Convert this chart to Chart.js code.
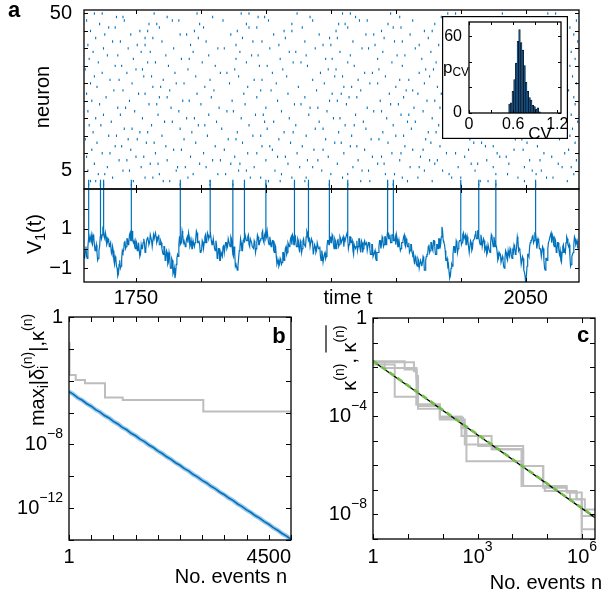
<!DOCTYPE html>
<html>
<head>
<meta charset="utf-8">
<script src="https://cdn.jsdelivr.net/npm/chart.js@4.4.1/dist/chart.umd.min.js"></script>
<style>
html, body { margin: 0; padding: 0; background: #fff; }
body { width: 603px; height: 595px; position: relative; overflow: hidden; }
canvas { position: absolute; }
</style>
</head>
<body>
<script>
// -------------------------------
// DATA
// -------------------------------
const T0 = 1710, T1 = 2091;

const timeTicks = [1750, 1800, 1850, 1900, 1950, 2000, 2050];
const timeTickLabels = ['1750', '', '', '', '', '', '2050'];
const neuronTicks = [5, 10, 15, 20, 25, 30, 35, 40, 45, 50];
const neuronTickLabels = ['5', '', '', '', '', '', '', '', '', '50'];
const vTicks = [-1, 0, 1, 2];
const vTickLabels = ['\u22121', '', '1', ''];

// spike times of neuron 1 (also the raster's bottom row)
const vSpikes = [1713.6, 1722.6, 1725.1, 1746.4, 1784, 1807, 1824.6, 1833.5, 1850, 1872,
  1882.7, 1898.8, 1913, 1943.7, 1948, 2000, 2013.8, 2027, 2057.6];
const spikePeak = 3.5;

// membrane potential of neuron 1 at t = T0, T0+1, ...
const vTrace = [
  -0.3, -0.1, -0.4, 0.1, 0.6, 0.5, 0.3, 0.7, 0.2, 0.0,
  -0.2, -0.5, 0.1, 0.8, 0.7, 0.9, 0.5, 0.6, 0.3, 0.4,
  0.2, -0.2, 0.1, -0.6, -0.4, -0.9, -1.4, -0.8, -1.0, -0.5,
  -0.2, 0.3, 0.0, 0.5, 0.2, 0.7, 0.4, 0.9, 0.3, 0.1,
  0.4, -0.1, 0.3, -0.4, 0.2, 0.0, 0.5, -0.2, 0.3, 0.6,
  0.2, 0.7, 0.4, 0.1, 0.5, 0.8, 0.3, 0.6, 0.2, 0.4,
  0.0, -0.3, 0.1, -0.5, -0.2, -0.7, -0.4, -1.0, -0.6, -1.2,
  -1.5, -0.8, -0.3, 0.2, 0.5, 0.3, 0.7, 0.4, 0.1, 0.5,
  0.3, 0.6, 0.2, 0.0, 0.4, 0.1, 0.5, 0.8, 0.3, 0.2,
  -0.1, 0.4, 0.0, 0.6, 0.3, 0.8, 0.5, 0.9, 0.4, 0.2,
  0.5, -0.1, 0.2, -0.4, 0.0, -0.6, -0.3, 0.1, -0.2, 0.3,
  0.0, 0.5, 0.2, 0.6, 0.1, -0.4, -0.2, -0.8, -1.1, -0.5,
  0.0, 0.3, -0.1, 0.5, 0.7, 0.4, 0.6, 0.2, 0.5, 0.3,
  0.1, 0.4, -0.2, 0.3, 0.6, 0.2, 0.5, 0.8, 0.4, 0.7,
  0.5, 0.9, 0.3, 0.6, 0.1, 0.4, -0.1, 0.2, -0.4, -0.7,
  -0.9, -0.5, -0.8, -0.2, -0.6, 0.0, -0.3, 0.3, 0.1, 0.5,
  0.2, 0.6, 0.3, 0.7, 0.1, 0.4, -0.2, 0.3, 0.0, 0.5,
  0.2, 0.6, 0.8, 0.4, 0.1, 0.5, 0.2, -0.3, 0.1, -0.1,
  0.3, 0.0, -0.4, -0.1, -0.7, -0.3, -0.5, 0.1, 0.4, 0.6,
  0.3, 0.7, 0.2, 0.5, 0.0, 0.4, 0.1, 0.6, 0.3, 0.5,
  0.1, 0.4, 0.7, 0.5, 0.2, 0.6, 0.3, -0.1, 0.2, 0.0,
  0.4, 0.1, 0.5, -0.2, 0.3, 0.0, 0.4, 0.2, -0.1, 0.3,
  0.0, -0.3, 0.2, -0.4, -0.1, -0.6, -0.2, 0.1, 0.4, 0.2,
  0.5, 0.2, 0.6, 0.4, 0.8, 0.5, 0.3, 0.7, 0.6, 0.4,
  0.2, 0.5, 0.1, 0.4, 0.0, 0.3, 0.6, 0.2, 0.5, 0.1,
  0.3, -0.1, 0.2, -0.3, -0.6, -0.4, -0.8, -0.5, -1.0, -0.6,
  -0.9, -0.4, -1.1, -0.6, -0.3, 0.1, -0.2, 0.3, 0.0, 0.4,
  0.1, -0.3, 0.2, 0.5, 0.0, 0.6, 0.9, 0.3, -0.1, -0.6,
  -0.9, -1.2, -1.4, -0.8, -0.3, 0.1, -0.2, 0.3, 0.0, 0.4,
  0.6, 0.3, 0.8, 0.5, 0.2, 0.6, 0.1, -0.2, 0.3, 0.0,
  0.4, 0.7, 0.5, 0.9, 0.6, 0.2, 0.5, 0.1, 0.4, 0.0,
  -0.3, 0.2, -0.1, 0.3, 0.6, 0.1, 0.4, 0.2, -0.2, -0.5,
  -0.3, -0.7, -0.4, -0.9, -0.5, -0.2, -0.6, -0.3, 0.0, -0.4,
  -0.1, 0.2, -0.3, 0.1, 0.4, 0.0, -0.4, -0.8, -0.5, -1.2,
  -1.8, -0.9, -0.3, 0.1, 0.4, 0.6, 0.3, 0.8, 0.5, 0.2,
  0.4, 0.0, -0.4, 0.1, -0.6, -1.1, -0.5, 0.0, 0.4, 0.7,
  0.3, 0.6, 0.1, 0.4, -0.1, 0.3, -0.3, -0.6, -0.2, 0.2,
  -0.1, 0.3, 0.5, 0.1, -0.4, -0.8, -0.3, 0.2, 0.5, 0.3,
  0.0
];
// and at the half steps t = T0+0.5, T0+1.5, ...
const vTraceHalf = [
  -0.5, 0.1, -0.5, 0.5, 0.3, 0.7, 0.2, 0.6, -0.1, 0.2,
  -0.6, -0.1, 0.6, 0.5, 1.0, 0.6, 0.8, 0.2, 0.5, 0.1,
  0.3, -0.3, -0.1, -0.8, -0.5, -1.0, -1.3, -0.6, -0.9, -0.1,
  -0.1, 0.4, 0.1, 0.5, 0.3, 0.8, 0.5, 0.4, 0.4, 0.0,
  0.3, 0.0, -0.1, -0.3, 0.0, 0.3, 0.3, -0.1, 0.5, 0.4,
  0.3, 0.7, 0.1, 0.7, 0.5, 0.6, 0.4, 0.7, 0.2, 0.3,
  -0.2, 0.1, -0.6, -0.1, -0.8, -0.2, -1.0, -0.5, -1.3, -1.0,
  -1.3, -0.5, -0.4, 0.6, 0.2, 0.9, 0.3, 0.4, 0.3, 0.6,
  0.8, 0.1, 0.4, 0.0, 0.4, 0.3, 0.9, 0.3, 0.4, -0.2,
  -0.1, 0.3, 0.3, 0.7, 0.4, 0.7, 0.6, 0.9, 0.2, 0.5,
  0.0, 0.4, -0.5, 0.0, -0.6, -0.2, -0.4, 0.2, -0.2, 0.3,
  0.1, 0.5, 0.1, 0.5, -0.3, 0.1, -0.9, -0.8, -0.9, -0.1,
  0.5, -0.1, 0.4, 0.3, 0.7, 0.4, 0.7, 0.1, 0.5, 0.1,
  0.0, 0.3, 0.0, 0.7, 0.2, 0.4, 0.5, 0.9, 0.3, 0.8,
  0.6, 0.9, 0.2, 0.4, 0.2, 0.4, -0.2, 0.1, -0.8, -0.6,
  -0.8, -0.6, -0.7, -0.2, -0.3, 0.1, -0.2, 0.2, 0.2, 0.6,
  0.7, 0.2, 0.7, 0.1, 0.5, 0.0, 0.4, -0.2, 0.4, 0.2,
  0.1, 0.9, 0.5, 0.5, 0.1, 0.4, -0.3, 0.2, -0.2, 0.3,
  0.0, 0.1, -0.6, -0.3, -0.7, -0.2, -0.4, 0.4, 0.2, 0.6,
  0.3, 0.6, 0.0, 0.4, 0.1, 0.5, 0.2, 0.5, 0.3, 0.6,
  0.5, 0.4, 0.8, 0.0, 0.6, 0.3, 0.4, -0.3, 0.2, 0.1,
  -0.1, 0.5, 0.0, 0.4, -0.2, 0.3, 0.2, 0.3, -0.1, 0.3,
  -0.3, 0.2, -0.4, -0.2, -0.5, -0.2, -0.2, 0.4, 0.0, 0.6,
  0.1, 0.6, 0.2, 0.8, 0.5, 0.7, 0.3, 0.7, 0.4, 0.6,
  0.7, 0.1, 0.4, -0.1, 0.3, 0.4, 0.7, 0.1, 0.4, 0.1,
  -0.2, 0.2, -0.2, -0.2, -0.8, -0.5, -0.9, -0.6, -1.0, -0.7,
  -0.7, -0.5, -1.1, -0.4, -0.3, 0.2, -0.1, 0.3, -0.1, 0.4,
  -0.3, 0.2, 0.0, 0.5, 0.2, 1.1, 0.4, 0.2, -0.6, -0.5,
  -0.8, -1.5, -1.0, -0.9, 0.1, -0.2, 0.4, -0.2, 0.3, 0.4,
  0.2, 0.7, 0.5, 0.7, 0.2, 0.4, -0.2, 0.4, -0.1, 0.4,
  0.5, 0.9, 0.5, 0.9, 0.3, 0.7, 0.1, 0.5, -0.1, 0.1,
  -0.2, 0.2, -0.2, 0.7, 0.3, 0.6, 0.1, 0.1, -0.6, -0.2,
  -0.3, -0.7, -0.6, -1.0, -0.1, -0.5, -0.1, -0.4, -0.1, -0.5,
  -0.2, 0.1, -0.2, 0.6, -0.1, -0.1, -0.8, -0.4, -1.1, -1.4,
  -1.4, -0.3, -0.4, 0.3, 0.4, 0.7, 0.4, 0.8, 0.0, 0.5,
  0.0, -0.1, -0.4, 0.0, -1.0, -0.5, -0.6, 0.3, 0.4, 0.8,
  0.7, 0.2, 0.5, -0.2, 0.3, -0.1, -0.1, -0.7, 0.1, -0.2,
  -0.2, 0.6, 0.2, 0.2, -0.9, -0.4, -0.2, 0.6, 0.2, 0.4
];

// spike times of neurons 2..50, as offsets from T0
// (rows under the inset only keep what is visible)
const spikeRows = [
  [5, 9, 38, 61, 66, 97, 142, 151, 170, 213, 220, 249, 268, 305, 311, 339, 372],
  [22, 47, 53, 80, 128, 136, 160, 171, 199, 245, 257, 283, 290, 334, 356, 361],
  [11, 16, 58, 84, 103, 109, 152, 190, 203, 232, 239, 281, 317, 326, 348, 377],
  [3, 30, 35, 71, 119, 125, 147, 183, 214, 219, 262, 276, 301, 345, 352],
  [18, 44, 72, 78, 94, 131, 166, 176, 207, 251, 258, 288, 315, 339, 368, 375],
  [8, 51, 57, 89, 113, 120, 157, 195, 226, 231, 270, 298, 303, 327, 365],
  [27, 33, 64, 99, 105, 140, 172, 180, 211, 243, 266, 272, 310, 343, 351, 379],
  [2, 40, 46, 82, 116, 149, 155, 188, 222, 229, 259, 293, 320, 325, 360],
  [14, 20, 55, 92, 126, 133, 164, 200, 237, 244, 279, 286, 318, 354, 370],
  [6, 36, 69, 75, 108, 145, 177, 184, 216, 253, 261, 296, 331, 338, 373],
  [24, 29, 63, 101, 137, 143, 168, 205, 210, 247, 274, 309, 315, 349],
  [10, 48, 54, 86, 122, 159, 193, 198, 234, 267, 300, 306, 341, 378],
  [1, 34, 41, 77, 111, 117, 150, 186, 221, 227, 263, 297, 332, 337, 366],
  [19, 25, 60, 95, 130, 136, 171, 206, 240, 246, 374],
  [7, 43, 49, 83, 118, 154, 161, 196, 230, 265, 271],
  [31, 37, 74, 106, 141, 178, 184, 217, 252, 376],
  [4, 13, 52, 88, 93, 127, 163, 201, 208, 238, 273],
  [21, 62, 68, 102, 139, 146, 181, 215, 249, 255, 380],
  [9, 45, 79, 85, 121, 158, 192, 197, 233, 268],
  [15, 28, 57, 96, 132, 138, 173, 209, 244, 250, 375],
  [3, 39, 73, 110, 115, 152, 187, 223, 229, 261],
  [26, 32, 67, 104, 140, 174, 180, 218, 254, 274],
  [12, 50, 56, 90, 124, 162, 167, 202, 236, 242, 378],
  [6, 35, 76, 81, 114, 149, 189, 195, 228, 264, 270],
  [17, 58, 64, 98, 133, 170, 204, 210, 246, 377],
  [2, 42, 47, 87, 123, 157, 191, 198, 235, 257, 275],
  [23, 30, 66, 100, 136, 144, 179, 213, 248, 253, 373],
  [10, 53, 59, 93, 126, 165, 200, 206, 240, 272],
  [5, 37, 71, 77, 112, 148, 185, 220, 226, 262, 379],
  [20, 27, 61, 97, 131, 137, 176, 211, 243, 250],
  [8, 46, 52, 86, 119, 156, 193, 199, 232, 266, 376],
  [14, 33, 70, 105, 110, 145, 182, 216, 222, 258],
  [1, 40, 45, 80, 116, 153, 188, 194, 227, 263, 269],
  [24, 29, 65, 101, 135, 141, 172, 208, 245, 374],
  [11, 49, 55, 91, 125, 161, 167, 203, 237, 271],
  [4, 38, 75, 81, 117, 151, 186, 191, 226, 260, 378],
  [18, 26, 63, 96, 129, 134, 171, 205, 241, 247],
  [7, 44, 51, 84, 120, 158, 163, 197, 230, 267, 375],
  [15, 34, 69, 103, 108, 143, 178, 214, 219, 255],
  [3, 41, 47, 82, 117, 150, 184, 190, 224, 258, 273],
  [22, 28, 60, 94, 130, 137, 170, 207, 239, 245, 380],
  [9, 47, 53, 88, 122, 155, 189, 195, 231, 265],
  [16, 36, 74, 79, 113, 146, 181, 217, 223, 251, 377],
  [5, 43, 49, 85, 118, 154, 160, 194, 229, 262, 268],
  [19, 24, 58, 92, 127, 133, 168, 203, 238, 244, 374],
  [12, 50, 56, 89, 125, 160, 196, 201, 234, 270],
  [2, 31, 68, 73, 107, 142, 176, 212, 218, 253, 379],
  [25, 30, 64, 99, 134, 139, 174, 209, 243, 275],
  [8, 14, 54, 87, 121, 127, 164, 199, 205, 236, 280, 286, 322, 357, 363]
];

// inset: histogram of CV
const cvCenters = [0.55, 0.573, 0.595, 0.618, 0.641, 0.664, 0.686, 0.709, 0.732, 0.755,
  0.777, 0.8, 0.823, 0.845, 0.868, 0.891, 0.914, 0.936, 0.959];
const cvCounts = [7, 8, 17, 26, 39, 56, 65, 55, 49, 37, 24, 17, 12, 10, 6, 5, 3, 4, 1];
const cvTicks = [0, 0.3, 0.6, 0.9, 1.2];
const cvTickLabels = ['0', '', '0.6', '', '1.2'];
const pTicks = [0, 20, 40, 60];
const pTickLabels = ['0', '', '', '60'];

// panel b
const bN = [1, 100, 200, 300, 400, 500, 600, 700, 800, 900, 1000, 1100, 1200, 1300, 1400,
  1500, 1600, 1700, 1800, 1900, 2000, 2100, 2200, 2300, 2400, 2500, 2600, 2700, 2800, 2900,
  3000, 3100, 3200, 3300, 3400, 3500, 3600, 3700, 3800, 3900, 4000, 4100, 4200, 4300, 4400,
  4500, 4600, 4700, 4800, 4900, 5000];
const bDelta = [2.04e-5, 1.4e-5, 8.3e-6, 5.9e-6, 3.6e-6, 2.5e-6, 1.52e-6, 1.07e-6, 6.5e-7, 4.6e-7,
  2.8e-7, 1.93e-7, 1.18e-7, 8.3e-8, 5.0e-8, 3.5e-8, 2.15e-8, 1.5e-8, 9.2e-9, 6.4e-9,
  3.9e-9, 2.7e-9, 1.67e-9, 1.15e-9, 7.1e-10, 4.9e-10, 3.0e-10, 2.1e-10, 1.29e-10, 8.9e-11,
  5.5e-11, 3.8e-11, 2.35e-11, 1.62e-11, 1.0e-11, 6.9e-12, 4.3e-12, 2.95e-12, 1.82e-12, 1.25e-12,
  7.8e-13, 5.3e-13, 3.3e-13, 2.28e-13, 1.41e-13, 9.7e-14, 6.0e-14, 4.1e-14, 2.56e-14, 1.76e-14,
  1.1e-14];
const bStepN = [1, 12, 151, 360, 811, 1209, 3025, 5000];
const bStepK = [2.3e-2, 2.3e-4, 1.1e-4, 6.9e-5, 8.7e-6, 6.2e-6, 1.15e-6, 1.15e-6];
const bXTicks = [0, 500, 1000, 1500, 2000, 2500, 3000, 3500, 4000, 4500, 5000];
const bXTickLabels = ['1', '', '', '', '', '', '', '', '', '4500', ''];
const bYTicks = [1, 1e-2, 1e-4, 1e-6, 1e-8, 1e-10, 1e-12, 1e-14];
const bYTickLabels = ['1', '', '', '', '10^{\u22128}', '', '10^{\u221212}', ''];

// panel c: [n, kappa] step curves of single runs
const cRun1 = [[1, 1.58e-2], [2.17, 9.3e-3], [17.7, 3.3e-3], [19.6, 2.0e-4], [83, 9.5e-5], [347, 1.55e-5],
  [431, 7.1e-6], [2530, 4.5e-6], [18300, 9.3e-7], [76700, 1.23e-7], [360000, 9.1e-8], [695000, 4.2e-8],
  [1.2e6, 1.6e-8], [2.35e6, 1.6e-8]];
const cRun2 = [[1, 1.29e-2], [4.2, 6.2e-4], [17.7, 3.0e-4], [83, 8.7e-5], [386, 3.4e-5], [480, 1.48e-6],
  [18300, 1.45e-7], [85500, 9.1e-8], [450000, 7.8e-8], [980000, 8.7e-9], [2.35e6, 8.7e-9]];
const cRun3 = [[1, 1.74e-2], [8.1, 7.9e-3], [17.7, 4.3e-3], [19.6, 2.6e-4], [83, 7.4e-5], [431, 1.55e-5],
  [1040, 6.2e-6], [2800, 4.5e-6], [20400, 9.3e-7], [76700, 1.45e-7], [360000, 7.8e-8], [695000, 4.2e-8],
  [980000, 2.5e-9], [2.35e6, 2.5e-9]];
const cRun4 = [[1, 1.58e-2], [15, 6.8e-3], [17.7, 3.0e-4], [83, 9.5e-5], [347, 3.4e-5], [431, 1.55e-5],
  [2530, 6.2e-6], [20400, 1.45e-7], [85500, 9.1e-8], [450000, 4.2e-8], [980000, 1e-10], [2.35e6, 1e-10]];
const cMeanN = [1, 2.35e6];
const cMeanK = [1.74e-2, 7.4e-9];
const cFitK = [1.8e-2, 7.7e-9];
const cXTicks = [1, 10, 100, 1e3, 1e4, 1e5, 1e6];
const cXTickLabels = ['1', '', '', '10^{3}', '', '', '10^{6}'];
const cYTicks = [1, 1e-1, 1e-2, 1e-3, 1e-4, 1e-5, 1e-6, 1e-7, 1e-8, 1e-9];
const cYTickLabels = ['1', '', '', '', '10^{\u22124}', '', '', '', '10^{\u22128}', ''];

// -------------------------------
// TEXT HELPERS
// -------------------------------
const FONT = '"Liberation Sans", Arial, Helvetica, sans-serif';
const BLUE = '#0072BD';

// tiny markup: ^{sup} _{sub} ~{overlined}
function parseRich(str, over) {
  const out = [];
  let i = 0, buf = '';
  const flush = () => { if (buf) { out.push({ t: buf, over: !!over }); buf = ''; } };
  while (i < str.length) {
    const ch = str[i];
    if ((ch === '^' || ch === '_' || ch === '~') && str[i + 1] === '{') {
      flush();
      let depth = 1, j = i + 2;
      while (j < str.length && depth) {
        if (str[j] === '{') depth++;
        else if (str[j] === '}') depth--;
        j++;
      }
      const inner = str.slice(i + 2, j - 1);
      if (ch === '~') out.push(...parseRich(inner, true));
      else out.push({ t: inner, sup: ch === '^', sub: ch === '_', over: !!over });
      i = j;
    } else { buf += ch; i++; }
  }
  flush();
  return out;
}

function drawRich(ctx, str, x, y, o) {
  const size = o.size || 20;
  const segs = parseRich(str, false);
  let cx = 0, prev = null;
  segs.forEach(s => {
    const fs = (s.sup || s.sub) ? size * 0.7 : size;
    s.font = (o.bold ? 'bold ' : '') + fs + 'px ' + FONT;
    ctx.font = s.font;
    s.w = ctx.measureText(s.t).width;
    if (s.sup && prev && prev.sub) { s.x = prev.x; cx = prev.x + Math.max(prev.w, s.w); }
    else { s.x = cx; cx += s.w; }
    s.dy = s.sup ? -0.5 * size : (s.sub ? 0.3 * size : 0);
    prev = s;
  });
  const x0 = o.align === 'right' ? -cx : (o.align === 'left' ? 0 : -cx / 2);
  ctx.save();
  ctx.translate(x, y);
  if (o.rot) ctx.rotate(o.rot);
  ctx.fillStyle = '#000';
  ctx.textBaseline = 'middle';
  ctx.textAlign = 'left';
  let a1 = Infinity, a2 = -Infinity;
  segs.forEach(s => {
    ctx.font = s.font;
    ctx.fillText(s.t, x0 + s.x, s.dy);
    if (s.over) { a1 = Math.min(a1, x0 + s.x); a2 = Math.max(a2, x0 + s.x + s.w); }
  });
  if (a2 > a1) {
    ctx.strokeStyle = '#000';
    ctx.lineWidth = 1.2;
    ctx.beginPath();
    ctx.moveTo(a1, -1.2 * size);
    ctx.lineTo(a2, -1.2 * size);
    ctx.stroke();
  }
  ctx.restore();
}

// -------------------------------
// FRAME / TICKS / LABELS PLUGIN
// -------------------------------
const decorCfg = new Map();

const decor = {
  id: 'decor',
  beforeDraw(chart) {
    const o = decorCfg.get(chart.canvas);
    if (!o || !o.box) return;
    const ctx = chart.ctx;
    ctx.save();
    ctx.fillStyle = '#fff';
    ctx.fillRect(0, 0, chart.width, chart.height);
    ctx.strokeStyle = '#000';
    ctx.lineWidth = 1.2;
    ctx.strokeRect(0.6, 0.6, chart.width - 1.2, chart.height - 1.2);
    ctx.restore();
  },
  afterDraw(chart) {
    const o = decorCfg.get(chart.canvas);
    if (!o) return;
    const ctx = chart.ctx, a = chart.chartArea;
    const xs = chart.scales.x, ys = chart.scales.y;
    const L = o.tickLen;
    ctx.save();
    ctx.strokeStyle = '#000';
    ctx.lineWidth = 1;
    ctx.beginPath();
    o.xTicks.forEach(v => {
      const p = Math.round(xs.getPixelForValue(v)) + 0.5;
      ctx.moveTo(p, a.top); ctx.lineTo(p, a.top + L);
      ctx.moveTo(p, a.bottom); ctx.lineTo(p, a.bottom - L);
    });
    o.yTicks.forEach(v => {
      const p = Math.round(ys.getPixelForValue(v)) + 0.5;
      ctx.moveTo(a.left, p); ctx.lineTo(a.left + L, p);
      ctx.moveTo(a.right, p); ctx.lineTo(a.right - L, p);
    });
    ctx.stroke();
    ctx.lineWidth = 1.3;
    ctx.strokeRect(a.left, a.top, a.right - a.left, a.bottom - a.top);

    o.xTicks.forEach((v, i) => {
      if (o.xLabels[i]) drawRich(ctx, o.xLabels[i], xs.getPixelForValue(v), a.bottom + o.xGap, { size: o.fontSize });
    });
    o.yTicks.forEach((v, i) => {
      if (o.yLabels[i]) drawRich(ctx, o.yLabels[i], a.left - o.yGap, ys.getPixelForValue(v), { size: o.fontSize, align: 'right' });
    });
    (o.texts || []).forEach(t => drawRich(ctx, t.s, t.x - o.ox, t.y - o.oy, t));
    ctx.restore();
  }
};
Chart.register(decor);

function addCanvas(left, top, w, h) {
  const c = document.createElement('canvas');
  c.width = w; c.height = h;
  c.style.left = left + 'px';
  c.style.top = top + 'px';
  c.style.width = w + 'px';
  c.style.height = h + 'px';
  document.body.appendChild(c);
  return c;
}

function baseOptions(pad, xScale, yScale) {
  return {
    responsive: false,
    animation: false,
    devicePixelRatio: 1,
    events: [],
    layout: { padding: pad },
    plugins: { legend: { display: false }, tooltip: { enabled: false } },
    scales: {
      x: Object.assign({ display: false }, xScale),
      y: Object.assign({ display: false }, yScale)
    }
  };
}

const ROT = -Math.PI / 2;

// -------------------------------
// a: RASTER
// -------------------------------
const rasterPts = vSpikes.map(t => ({ x: t, y: 1 }));
spikeRows.forEach((row, i) => row.forEach(o => rasterPts.push({ x: T0 + o, y: i + 2 })));

const cvRaster = addCanvas(0, 0, 603, 200);
decorCfg.set(cvRaster, {
  ox: 0, oy: 0, tickLen: 4, fontSize: 20,
  xTicks: timeTicks, xLabels: [], xGap: 0,
  yTicks: neuronTicks, yLabels: neuronTickLabels, yGap: 12,
  texts: [
    { s: 'a', x: 14, y: 11, size: 22, bold: true },
    { s: 'neuron', x: 43, y: 97, size: 20, rot: ROT }
  ]
});
new Chart(cvRaster, {
  type: 'scatter',
  data: {
    datasets: [{
      data: rasterPts,
      pointStyle: 'line',
      rotation: 90,
      pointRadius: 1.2,
      borderWidth: 1.1,
      borderColor: BLUE,
      backgroundColor: BLUE
    }]
  },
  options: baseOptions({ left: 84, top: 10, right: 24, bottom: 11 },
    { type: 'linear', min: T0, max: T1 },
    { type: 'linear', min: -0.25, max: 51 })
});

// -------------------------------
// a: V1(t) TRACE
// -------------------------------
const vPts = [];
let si = 0;
function pushV(t, v) {
  while (si < vSpikes.length && vSpikes[si] <= t) {
    const last = vPts.length ? vPts[vPts.length - 1].y : v;
    vPts.push({ x: vSpikes[si], y: last });
    vPts.push({ x: vSpikes[si], y: spikePeak });
    vPts.push({ x: vSpikes[si], y: last });
    si++;
  }
  vPts.push({ x: t, y: v });
}
vTrace.forEach((v, i) => {
  pushV(T0 + i, v);
  if (i < vTraceHalf.length) pushV(T0 + i + 0.5, vTraceHalf[i]);
});

const cvTrace = addCanvas(0, 170, 603, 145);
decorCfg.set(cvTrace, {
  ox: 0, oy: 170, tickLen: 4, fontSize: 20,
  xTicks: timeTicks, xLabels: timeTickLabels, xGap: 16,
  yTicks: vTicks, yLabels: vTickLabels, yGap: 12,
  texts: [
    { s: 'V_{1}(t)', x: 35, y: 234, size: 20, rot: ROT },
    { s: 'time t', x: 348, y: 298, size: 20 }
  ]
});
new Chart(cvTrace, {
  type: 'line',
  data: {
    datasets: [{
      data: vPts,
      borderColor: BLUE,
      borderWidth: 1.2,
      pointRadius: 0,
      tension: 0,
      clip: { left: 0, right: 0, bottom: 0, top: false }
    }]
  },
  options: baseOptions({ left: 84, top: 19, right: 24, bottom: 33 },
    { type: 'linear', min: T0, max: T1 },
    { type: 'linear', min: -1.7, max: 3.03 })
});

// -------------------------------
// a: INSET HISTOGRAM
// -------------------------------
const cvInset = addCanvas(442, 16, 126, 123);
decorCfg.set(cvInset, {
  box: true, ox: 442, oy: 16, tickLen: 3, fontSize: 16,
  xTicks: cvTicks, xLabels: cvTickLabels, xGap: 12,
  yTicks: pTicks, yLabels: pTickLabels, yGap: 7,
  texts: [
    { s: 'p_{CV}', x: 443, y: 68, size: 17, align: 'left' },
    { s: 'CV', x: 540, y: 134, size: 17 }
  ]
});
new Chart(cvInset, {
  type: 'bar',
  data: {
    datasets: [{
      data: cvCenters.map((c, i) => ({ x: c, y: cvCounts[i] })),
      backgroundColor: '#0b4f8c',
      borderColor: '#0a0a0a',
      borderWidth: 0.6,
      barPercentage: 1,
      categoryPercentage: 1
    }]
  },
  options: baseOptions({ left: 27, top: 6, right: 7, bottom: 26 },
    { type: 'linear', min: 0, max: 1.25, offset: false },
    { type: 'linear', min: 0, max: 71 })
});

// -------------------------------
// b
// -------------------------------
const cvB = addCanvas(0, 305, 300, 290);
decorCfg.set(cvB, {
  ox: 0, oy: 305, tickLen: 5, fontSize: 20,
  xTicks: bXTicks, xLabels: bXTickLabels, xGap: 17,
  yTicks: bYTicks, yLabels: bYTickLabels, yGap: 6,
  texts: [
    { s: 'b', x: 279, y: 337, size: 22, bold: true },
    { s: 'No. events n', x: 287, y: 577, size: 20, align: 'right' },
    { s: 'max_{i}|\u03b4_{i}^{(n)}|,\u03ba^{(n)}', x: 38, y: 370, size: 20, rot: ROT }
  ]
});
new Chart(cvB, {
  type: 'line',
  data: {
    datasets: [
      {
        data: bN.map((n, i) => ({ x: n, y: bDelta[i] })),
        borderColor: BLUE, borderWidth: 1.6, pointRadius: 0, tension: 0
      },
      {
        data: bN.map((n, i) => ({ x: n, y: bDelta[i] })),
        borderColor: 'rgba(95,165,220,0.6)', borderWidth: 4.5, pointRadius: 0, tension: 0
      },
      {
        data: bStepN.map((n, i) => ({ x: n, y: bStepK[i] })),
        borderColor: '#bdbdbd', borderWidth: 2, pointRadius: 0, stepped: 'before'
      }
    ]
  },
  options: baseOptions({ left: 69, top: 12, right: 9, bottom: 55 },
    { type: 'linear', min: 0, max: 5000 },
    { type: 'logarithmic', min: 1e-14, max: 1 })
});

// -------------------------------
// c
// -------------------------------
const cvC = addCanvas(300, 305, 303, 290);
decorCfg.set(cvC, {
  ox: 300, oy: 305, tickLen: 5, fontSize: 20,
  xTicks: cXTicks, xLabels: cXTickLabels, xGap: 18,
  yTicks: cYTicks, yLabels: cYTickLabels, yGap: 6,
  texts: [
    { s: 'c', x: 583, y: 336, size: 22, bold: true },
    { s: 'No. events n', x: 602, y: 583, size: 20, align: 'right' },
    { s: '\u03ba^{(n)}, ~{\u03ba^{(n)}}', x: 350, y: 358, size: 20, rot: ROT }
  ]
});
const grayRun = run => ({
  data: run.map(p => ({ x: p[0], y: p[1] })),
  borderColor: '#bfbfbf', borderWidth: 2, pointRadius: 0, stepped: 'before'
});
new Chart(cvC, {
  type: 'line',
  data: {
    datasets: [
      {
        data: cMeanN.map((n, i) => ({ x: n, y: cFitK[i] })),
        borderColor: '#6fbf44', borderWidth: 2.6, borderDash: [6, 4], pointRadius: 0
      },
      {
        data: cMeanN.map((n, i) => ({ x: n, y: cMeanK[i] })),
        borderColor: '#000', borderWidth: 1.3, pointRadius: 0
      },
      grayRun(cRun1), grayRun(cRun2), grayRun(cRun3), grayRun(cRun4)
    ]
  },
  options: baseOptions({ left: 73, top: 13, right: 8, bottom: 56 },
    { type: 'logarithmic', min: 1, max: 2.35e6 },
    { type: 'logarithmic', min: 1e-9, max: 1 })
});
</script>
</body>
</html>
